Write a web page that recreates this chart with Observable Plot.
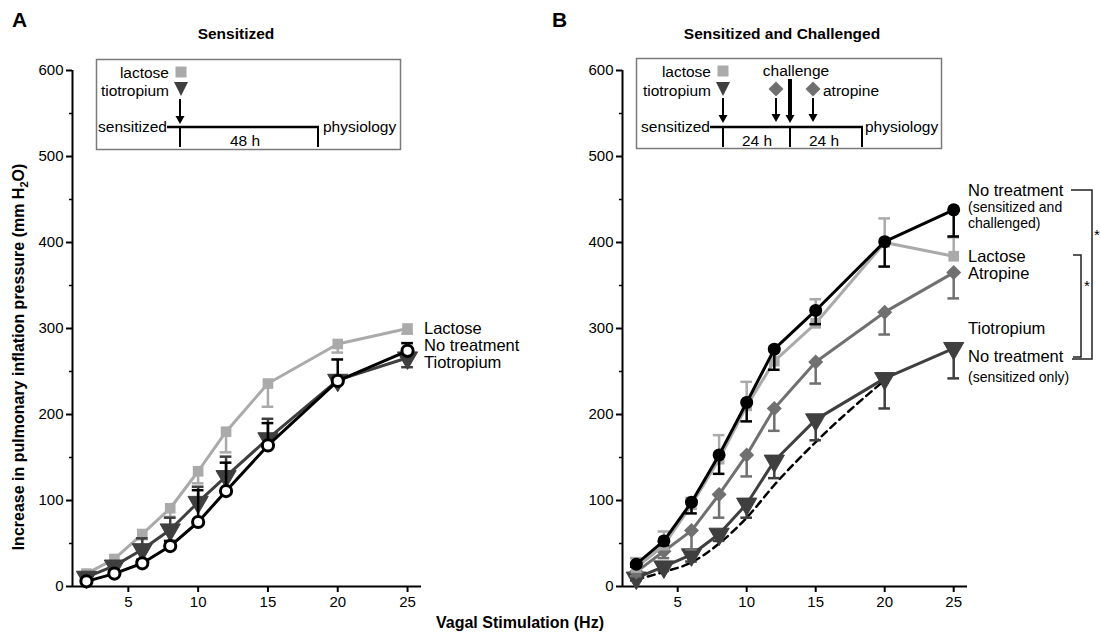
<!DOCTYPE html>
<html>
<head>
<meta charset="utf-8">
<script src="https://cdn.jsdelivr.net/npm/d3@7"></script>
<script src="https://cdn.jsdelivr.net/npm/@observablehq/plot@0.6"></script>
<style>
  html, body { margin: 0; padding: 0; background: #fff; }
  #root { position: relative; width: 1101px; height: 636px; overflow: hidden; font-family: "Liberation Sans", Arial, sans-serif; }
  #root svg { position: absolute; top: 0; }
</style>
</head>
<body>
<div id="root"></div>
<script>
// ---------- data ----------
const hz = [2, 4, 6, 8, 10, 12, 15, 20, 25];
const hzTicks = [5, 10, 15, 20, 25];
const yTicks = [0, 100, 200, 300, 400, 500, 600];
const yMinorTicks = [50, 150, 250, 350, 450, 550];

// Panel A: Sensitized  (errors signed: + drawn above, - drawn below)
const aLactose      = [15, 32, 61, 91, 134, 180, 236, 282, 300];
const aLactoseErr   = [-3, -4, -6, -10, -14, -24, -27, -10, -6];
const aTiotropium   = [11, 24, 43, 66, 98, 128, 172, 240, 266];
const aTiotropiumErr= [3, 5, 13, 14, 18, 23, 23, 5, -11];
const aNoTreat      = [6, 15, 27, 47, 75, 111, 164, 239, 274];
const aNoTreatErr   = [2, 3, 4, 6, 37, 33, 26, 25, 9];

// Panel B: Sensitized and Challenged
const bNoTreat      = [26, 53, 98, 153, 214, 276, 321, 401, 438];
const bNoTreatErr   = [-3, -5, -13, -22, -22, -24, -16, -29, -31];
const bLactose      = [22, 48, 95, 148, 210, 262, 306, 400, 384];
const bLactoseErr   = [11, 16, 8, 28, 28, 17, 28, 28, 22];
const bAtropine     = [17, 41, 65, 107, 153, 207, 261, 319, 365];
const bAtropineErr  = [-5, -8, -22, -27, -25, -26, -25, -26, -30];
const bTiotropium   = [10, 23, 37, 61, 96, 146, 194, 242, 277];
const bTiotropiumErr= [-3, -5, -8, -8, -16, -20, -24, -35, -35];
const bSensOnly     = [8, 17, 28, 50, 80, 118, 168, 240]; // dashed, 2..20 Hz

const labelsA = ["Lactose", "No treatment", "Tiotropium"];

// ---------- helpers ----------
const rows = (vals, errs) => vals.map((y, i) => ({x: hz[i], y, e: errs ? errs[i] : 0}));

const C_LACT = "#aaaaaa", C_TIO = "#3f3f3f", C_ATRO = "#707070", C_NT = "#000000";
const FONT = "'Liberation Sans', Arial, sans-serif";

function seriesMarks(data, color, dotOpts, lineOpts = {}) {
  const withErr = data.filter(d => d.e !== 0);
  return [
    Plot.ruleX(withErr, {x: "x", y1: "y", y2: d => d.y + d.e, stroke: color, strokeWidth: 2.5}),
    Plot.ruleY(withErr, {y: d => d.y + d.e, x1: d => d.x - 0.42, x2: d => d.x + 0.42, stroke: color, strokeWidth: 2.5}),
    Plot.line(data, {x: "x", y: "y", stroke: color, strokeWidth: 3, ...lineOpts}),
    Plot.dot(data, {x: "x", y: "y", ...dotOpts})
  ];
}

function axes() {
  return [
    Plot.ruleX([1], {y1: 0, y2: 600, stroke: "black", strokeWidth: 2}),
    Plot.ruleY([0], {x1: 1, x2: 26, stroke: "black", strokeWidth: 2}),
    Plot.axisY(yTicks, {tickSize: 6, tickPadding: 3, strokeWidth: 2, label: null, fontSize: 15}),
    Plot.axisY(yMinorTicks, {tickSize: 3, strokeWidth: 1.5, label: null, tickFormat: () => ""}),
    Plot.axisX(hzTicks, {tickSize: 6, tickPadding: 4, strokeWidth: 2, label: null, fontSize: 15})
  ];
}

function makePlot(width, marginRight, marks) {
  return Plot.plot({
    width,
    height: 610,
    marginLeft: 72, marginRight, marginTop: 70, marginBottom: 24,
    x: {domain: [1, 26]},
    y: {domain: [0, 600]},
    style: {fontFamily: FONT, fontSize: "15px", color: "black", overflow: "visible", background: "transparent"},
    marks: [...axes(), ...marks]
  });
}

const triDown = (color) => ({symbol: "triangle", rotate: 180, r: 7.5, fill: color, stroke: color, strokeWidth: 1});
const square = (color) => ({symbol: "square", r: 6, fill: color});
const diamond = (color) => ({symbol: "square", rotate: 45, r: 6, fill: color});

// ---------- Panel A ----------
const plotA = makePlot(550, 129, [
  ...seriesMarks(rows(aLactose, aLactoseErr), C_LACT, square(C_LACT)),
  ...seriesMarks(rows(aTiotropium, aTiotropiumErr), C_TIO, triDown(C_TIO)),
  ...seriesMarks(rows(aNoTreat, aNoTreatErr), C_NT, {r: 5.6, fill: "white", stroke: C_NT, strokeWidth: 3})
]);
plotA.style.left = "0px";

// ---------- Panel B ----------
const sensOnly = bSensOnly.map((y, i) => ({x: hz[i], y}));
const plotB = makePlot(551, 134, [
  Plot.line(sensOnly, {x: "x", y: "y", stroke: "black", strokeWidth: 2.5, strokeDasharray: "7,5", curve: "monotone-x"}),
  ...seriesMarks(rows(bTiotropium, bTiotropiumErr), C_TIO, triDown(C_TIO)),
  ...seriesMarks(rows(bAtropine, bAtropineErr), C_ATRO, diamond(C_ATRO)),
  ...seriesMarks(rows(bLactose, bLactoseErr), C_LACT, square(C_LACT)),
  ...seriesMarks(rows(bNoTreat, bNoTreatErr), C_NT, {r: 6.5, fill: C_NT})
]);
plotB.style.left = "550px";

const root = document.getElementById("root");
root.appendChild(plotA);
root.appendChild(plotB);

// ---------- annotations overlay ----------
const svg = d3.select(root).append("svg")
  .attr("width", 1101).attr("height", 636)
  .style("left", "0px").style("font-family", FONT);

function text(x, y, s, opts = {}) {
  return svg.append("text").attr("x", x).attr("y", y)
    .attr("dominant-baseline", "central")
    .attr("text-anchor", opts.anchor || "start")
    .attr("font-size", opts.size || 15.5)
    .attr("font-weight", opts.bold ? "bold" : "normal")
    .attr("fill", opts.fill || "black")
    .text(s);
}
function line(x1, y1, x2, y2, w = 2, color = "black") {
  svg.append("line").attr("x1", x1).attr("y1", y1).attr("x2", x2).attr("y2", y2)
    .attr("stroke", color).attr("stroke-width", w);
}
function arrow(x, y1, y2, w = 2) {
  line(x, y1, x, y2 - 6, w);
  svg.append("path").attr("d", `M${x - 4.5},${y2 - 8}L${x + 4.5},${y2 - 8}L${x},${y2}Z`).attr("fill", "black");
}
function symSquare(cx, cy, color) {
  svg.append("rect").attr("x", cx - 5.5).attr("y", cy - 5.5).attr("width", 11).attr("height", 11).attr("fill", color);
}
function symTri(cx, cy, color) {
  svg.append("path").attr("d", `M${cx - 7},${cy - 7}L${cx + 7},${cy - 7}L${cx},${cy + 7}Z`).attr("fill", color);
}
function symDiamond(cx, cy, color) {
  svg.append("path").attr("d", `M${cx},${cy - 7.5}L${cx + 7.5},${cy}L${cx},${cy + 7.5}L${cx - 7.5},${cy}Z`).attr("fill", color);
}

// panel letters & titles
text(12, 19, "A", {size: 21, bold: true});
text(552, 19, "B", {size: 21, bold: true});
text(236, 33, "Sensitized", {size: 15.5, bold: true, anchor: "middle"});
text(782, 33, "Sensitized and Challenged", {size: 15.5, bold: true, anchor: "middle"});

// axis titles
const yl = svg.append("text")
  .attr("transform", "translate(24,357) rotate(-90)")
  .attr("text-anchor", "middle")
  .attr("font-size", 16).attr("font-weight", "bold");
yl.append("tspan").text("Increase in pulmonary inflation pressure (mm H");
yl.append("tspan").attr("font-size", 11).attr("dy", 4).text("2");
yl.append("tspan").attr("dy", -4).text("O)");
text(520, 622, "Vagal Stimulation (Hz)", {size: 16, bold: true, anchor: "middle"});

// series labels, panel A
text(424, 328, labelsA[0], {size: 16.5});
text(424, 345, labelsA[1], {size: 16.5});
text(424, 362, labelsA[2], {size: 16.5});

// series labels, panel B
text(968, 190, "No treatment", {size: 16.5});
text(968, 207, "(sensitized and", {size: 14});
text(968, 223, "challenged)", {size: 14});
text(968, 256, "Lactose", {size: 16.5});
text(968, 273, "Atropine", {size: 16.5});
text(968, 328, "Tiotropium", {size: 16.5});
text(968, 356, "No treatment", {size: 16.5});
text(968, 377, "(sensitized only)", {size: 14});

// significance brackets
svg.append("path").attr("d", "M1071,190H1092V359H1072").attr("fill", "none").attr("stroke", "#222").attr("stroke-width", 1.5);
svg.append("path").attr("d", "M1073,255H1081V357H1073").attr("fill", "none").attr("stroke", "#222").attr("stroke-width", 1.5);
text(1094, 234, "*", {size: 15});
text(1084, 285, "*", {size: 15});

// inset A
svg.append("rect").attr("x", 96.5).attr("y", 59.5).attr("width", 304).attr("height", 90)
  .attr("fill", "white").attr("stroke", "#7a7a7a").attr("stroke-width", 1.5);
text(169, 72, "lactose", {anchor: "end"});
symSquare(181, 72, C_LACT);
text(169, 90, "tiotropium", {anchor: "end"});
symTri(181, 89, C_TIO);
arrow(180, 99, 124);
text(167, 126, "sensitized", {anchor: "end"});
line(167, 127, 319, 127, 2.5);
line(180, 127, 180, 147, 2);
line(318, 126, 318, 147, 2);
text(245, 140, "48 h", {anchor: "middle"});
text(323, 126, "physiology");

// inset B
svg.append("rect").attr("x", 636.5).attr("y", 58.5).attr("width", 305).attr("height", 90)
  .attr("fill", "white").attr("stroke", "#7a7a7a").attr("stroke-width", 1.5);
text(711, 71, "lactose", {anchor: "end"});
symSquare(723, 71, C_LACT);
text(711, 90, "tiotropium", {anchor: "end"});
symTri(723, 89, C_TIO);
text(796, 70, "challenge", {anchor: "middle"});
arrow(790, 79, 123, 4);
symDiamond(776, 89, C_ATRO);
symDiamond(813, 89, C_ATRO);
text(823, 90, "atropine");
arrow(723, 98, 123);
arrow(776, 98, 122);
arrow(813, 98, 122);
text(710, 126, "sensitized", {anchor: "end"});
line(710, 127, 863, 127, 2.5);
line(723, 127, 723, 147, 2);
line(790, 127, 790, 147, 2);
line(862, 126, 862, 147, 2);
text(757, 140, "24 h", {anchor: "middle"});
text(824, 140, "24 h", {anchor: "middle"});
text(865, 126, "physiology");
</script>
</body>
</html>
